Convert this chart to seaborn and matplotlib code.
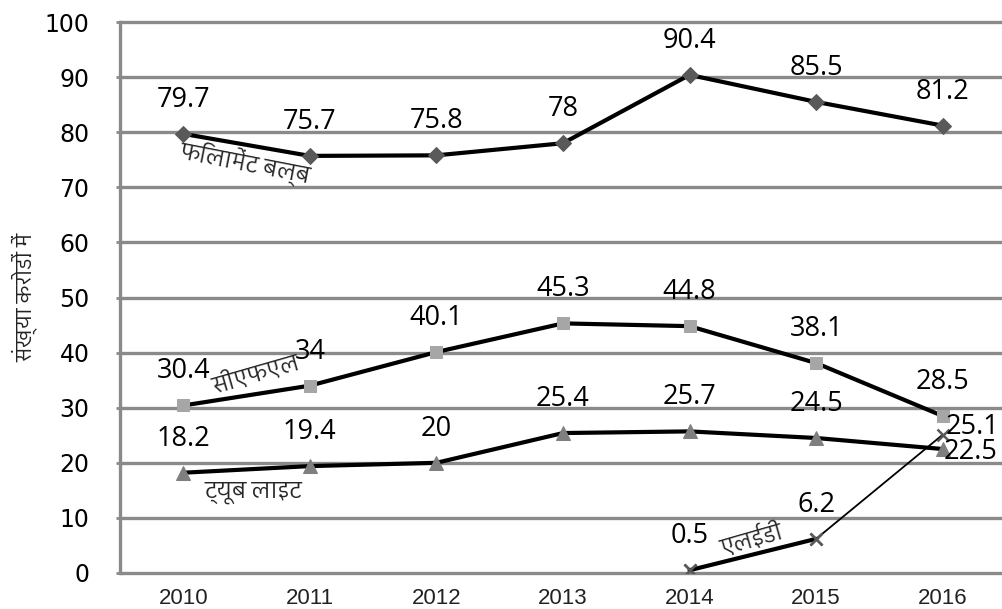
import matplotlib
matplotlib.use("Agg")
import matplotlib.pyplot as plt
from matplotlib import font_manager, ft2font
import numpy as np
import pandas as pd
import seaborn as sns

# ---------------- data ----------------
years = [2010, 2011, 2012, 2013, 2014, 2015, 2016]
filament = [79.7, 75.7, 75.8, 78, 90.4, 85.5, 81.2]
cfl = [30.4, 34, 40.1, 45.3, 44.8, 38.1, 28.5]
tube = [18.2, 19.4, 20, 25.4, 25.7, 24.5, 22.5]
led_years = [2014, 2015, 2016]
led = [0.5, 6.2, 25.1]
series_names = ["फिलामेंट बल्ब", "सीएफएल", "ट्यूब लाइट", "एलईडी"]
y_label = "संख्या करोड़ों में"
y_ticks = [0, 10, 20, 30, 40, 50, 60, 70, 80, 90, 100]

# ---------------- fonts ----------------
sns.set_theme(style="white")


def find_devanagari():
    best = None
    for path in font_manager.findSystemFonts():
        try:
            f = ft2font.FT2Font(path)
            cm = f.get_charmap()
            if 0x0915 in cm and 0x093F in cm and 0x094D in cm:
                name = font_manager.FontProperties(fname=path).get_name()
                if best is None or "Sans" in name:
                    best = name
        except Exception:
            pass
    return best


deva = find_devanagari()
deva_family = [deva, "DejaVu Sans"] if deva else ["DejaVu Sans"]
plt.rcParams["font.family"] = ["DejaVu Sans"]

# ---------------- long frame ----------------
pos = {y: i for i, y in enumerate(years)}
frames = []
for name, yrs, vals in [(series_names[0], years, filament),
                        (series_names[1], years, cfl),
                        (series_names[2], years, tube),
                        (series_names[3], led_years, led)]:
    frames.append(pd.DataFrame({"series": name, "year": yrs,
                                "x": [pos[y] for y in yrs], "value": vals}))
df = pd.concat(frames, ignore_index=True)

# ---------------- figure ----------------
fig = plt.figure(figsize=(10.03, 6.09), dpi=100)
ax = fig.add_axes([120 / 1003, 36 / 609, 886 / 1003, 551 / 609])

grid_c = "#8a8a8a"
styles = {
    series_names[0]: dict(marker="D", ms=8, mfc="#595959", mec="#595959"),
    series_names[1]: dict(marker="s", ms=9, mfc="#a6a6a6", mec="#a6a6a6"),
    series_names[2]: dict(marker="^", ms=10, mfc="#7f7f7f", mec="#7f7f7f"),
}

for name in series_names[:3]:
    sub = df[df.series == name]
    sns.lineplot(data=sub, x="x", y="value", ax=ax, color="black", lw=3.0,
                 zorder=3, **styles[name])

# LED: thin overall, thick first segment
led_df = df[df.series == series_names[3]]
sns.lineplot(data=led_df, x="x", y="value", ax=ax, color="black", lw=1.3,
             zorder=3, marker="x", ms=8, mew=1.8, mec="#595959")
sns.lineplot(data=led_df.iloc[:2], x="x", y="value", ax=ax, color="black",
             lw=3.0, zorder=3, marker="x", ms=8, mew=1.8, mec="#595959")

# data labels
special = {(series_names[3], 2016): (30, 8), (series_names[2], 2016): (28, -3)}
for _, r in df.iterrows():
    dx, dy = special.get((r.series, r.year), (0, 34))
    ax.annotate(f"{r.value:g}", (r.x, r.value), xytext=(dx, dy),
                textcoords="offset pixels", ha="center", va="center",
                fontsize=19.5, family="Open Sans", color="black", zorder=5)

# series name labels
ax.text(0.49, 74.4, series_names[0], rotation=-11, ha="center", va="center",
        fontsize=16.5, family=deva_family, rotation_mode="anchor")
ax.text(0.58, 35.8, series_names[1], rotation=16, ha="center", va="center",
        fontsize=16.5, family=deva_family, rotation_mode="anchor")
ax.text(0.55, 14.5, series_names[2], rotation=0, ha="center", va="center",
        fontsize=16.5, family=deva_family)
ax.text(4.49, 6.0, series_names[3], rotation=16, ha="center", va="center",
        fontsize=16.5, family=deva_family, rotation_mode="anchor")

# axes styling
ax.set_xlim(-0.5, 6.5)
ax.set_ylim(0, 100)
ax.set_yticks(y_ticks)
ax.set_xticks(range(len(years)))
ax.set_xticklabels([str(y) for y in years], family="Liberation Sans",
                   fontsize=16, color="#222222")
ax.set_yticklabels([str(t) for t in y_ticks], fontsize=17, color="black")
ax.tick_params(axis="x", length=0, pad=11)
ax.tick_params(axis="y", length=3, width=2, color=grid_c, pad=19, left=True)
ax.yaxis.grid(True, color=grid_c, lw=2.4)
ax.xaxis.grid(False)
ax.set_axisbelow(True)
for gl in ax.get_ygridlines():
    gl.set_clip_on(False)
for s in ["top", "right", "bottom"]:
    ax.spines[s].set_visible(False)
ax.spines["left"].set_color(grid_c)
ax.spines["left"].set_linewidth(2.4)
ax.set_xlabel("")
ax.set_ylabel(y_label, family=deva_family, fontsize=15, color="#222222")
ax.yaxis.set_label_coords(-0.093, 0.5)
if ax.get_legend():
    ax.get_legend().remove()

fig.savefig("out.png", dpi=100, facecolor="white")
